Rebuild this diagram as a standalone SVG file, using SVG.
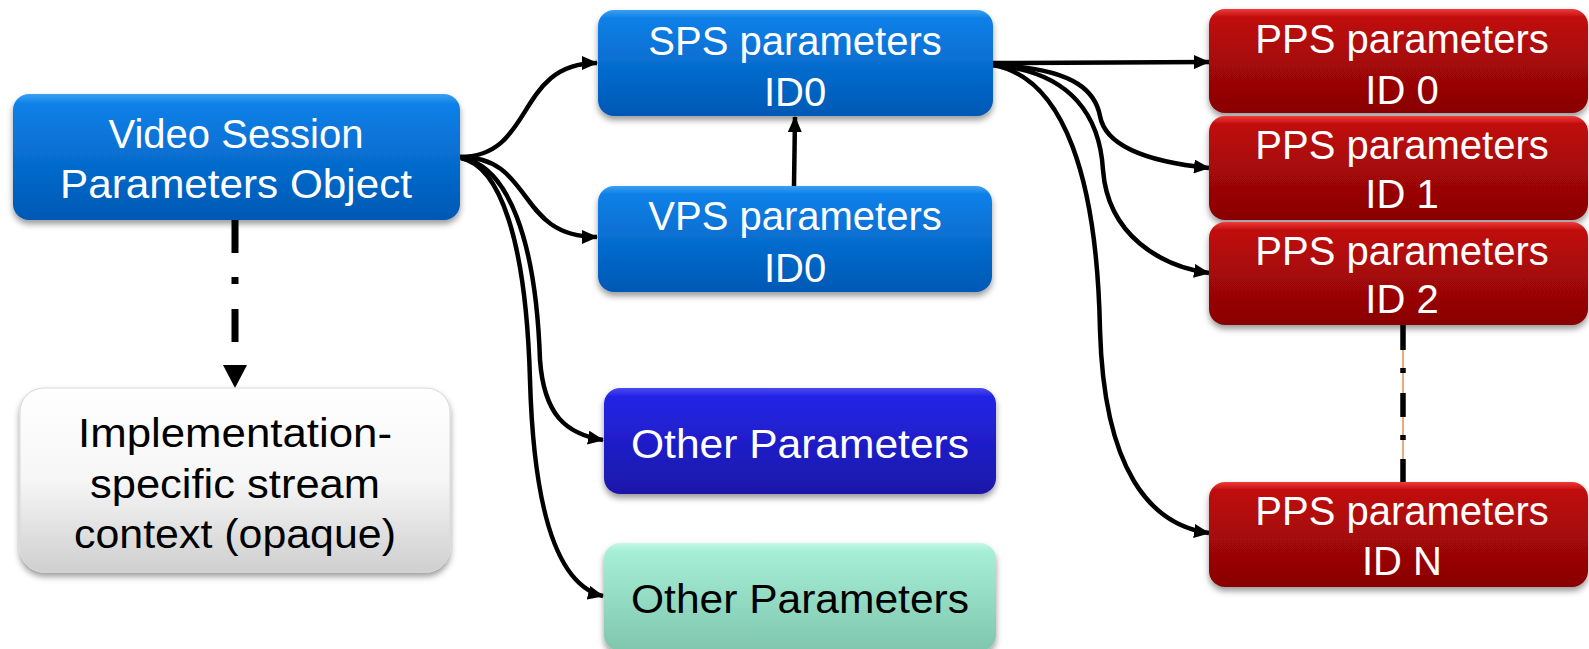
<svg xmlns="http://www.w3.org/2000/svg" width="1589" height="649" viewBox="0 0 1589 649">
<style>
.t{font-family:"Liberation Sans",Arial,sans-serif;font-size:40px;text-anchor:middle}
.w{fill:#ffffff}
.k{fill:#000000}
.c{fill:none;stroke:#000;stroke-width:4.5;stroke-linecap:butt}
</style>
<defs>
<linearGradient id="gBlue" x1="0" y1="0" x2="0" y2="1">
<stop offset="0" stop-color="#3aa0f2"/><stop offset="0.08" stop-color="#0c80e8"/><stop offset="1" stop-color="#0058b4"/>
</linearGradient>
<linearGradient id="gDeep" x1="0" y1="0" x2="0" y2="1">
<stop offset="0" stop-color="#4a4af0"/><stop offset="0.08" stop-color="#2424e6"/><stop offset="1" stop-color="#1a18a8"/>
</linearGradient>
<linearGradient id="gGreen" x1="0" y1="0" x2="0" y2="1">
<stop offset="0" stop-color="#c6f8e8"/><stop offset="0.08" stop-color="#a6eed6"/><stop offset="1" stop-color="#80c6ae"/>
</linearGradient>
<linearGradient id="gRed" x1="0" y1="0" x2="0" y2="1">
<stop offset="0" stop-color="#f03a3a"/><stop offset="0.08" stop-color="#c00a0a"/><stop offset="1" stop-color="#880404"/>
</linearGradient>
<linearGradient id="gWhite" x1="0" y1="0" x2="0" y2="1">
<stop offset="0" stop-color="#ffffff"/><stop offset="0.5" stop-color="#f6f6f6"/><stop offset="1" stop-color="#cfcfcf"/>
</linearGradient>
<filter id="sh" x="-5%" y="-10%" width="110%" height="130%">
<feDropShadow dx="0" dy="4" stdDeviation="3" flood-color="#000" flood-opacity="0.4"/>
</filter>
<marker id="ah" viewBox="0 0 16 14" refX="15" refY="7" markerWidth="16" markerHeight="14" markerUnits="userSpaceOnUse" orient="auto">
<path d="M0,0 L16,7 L0,14 Z" fill="#000"/>
</marker>
</defs>

<g id="connectors">
<path class="c" d="M460,157 C535,157 515,63 597,63" marker-end="url(#ah)"/>
<path class="c" d="M460,157 C535,157 515,237 597,237" marker-end="url(#ah)"/>
<path class="c" d="M461,158 C508,165 536,240 540,360 C544,415 566,434 603,440" marker-end="url(#ah)"/>
<path class="c" d="M461,158 C500,166 526,240 530,380 C534,520 560,586 603,596" marker-end="url(#ah)"/>
<path class="c" d="M794,186 L795,117" marker-end="url(#ah)"/>
<path class="c" d="M993,63 L1209,62" marker-end="url(#ah)"/>
<path class="c" d="M993,65 C1080,68 1096,95 1100,116 C1106,150 1160,163 1209,168" marker-end="url(#ah)"/>
<path class="c" d="M993,65 C1075,72 1100,120 1103,170 C1108,235 1160,266 1209,273" marker-end="url(#ah)"/>
<path class="c" d="M993,65 C1065,78 1097,180 1100,330 C1104,470 1150,525 1209,533" marker-end="url(#ah)"/>
<path d="M235,220 L235,366" fill="none" stroke="#000" stroke-width="7" stroke-dasharray="33 24 7 25 33 100"/>
<path d="M223,365 L247,365 L235,388 Z" fill="#000"/>
<line x1="1403" y1="325" x2="1403" y2="482" stroke="#e07020" stroke-width="1.2"/>
<path d="M1403,325 L1403,482" fill="none" stroke="#000" stroke-width="5.5" stroke-dasharray="25 18 5 20 24 18 5 19 24"/>
</g>

<g id="vspo">
<rect x="13" y="94" width="447" height="126" rx="16" fill="url(#gBlue)" filter="url(#sh)"/>
<text class="t w" x="236" y="148">Video Session</text>
<text class="t w" x="236" y="198" textLength="352" lengthAdjust="spacingAndGlyphs">Parameters Object</text>
</g>
<g id="impl">
<rect x="20" y="388" width="430" height="184" rx="24" fill="url(#gWhite)" stroke="#d8d8d8" stroke-width="1" filter="url(#sh)"/>
<text class="t k" x="235" y="447" textLength="314" lengthAdjust="spacingAndGlyphs">Implementation-</text>
<text class="t k" x="235" y="498" textLength="290" lengthAdjust="spacingAndGlyphs">specific stream</text>
<text class="t k" x="235" y="548" textLength="322" lengthAdjust="spacingAndGlyphs">context (opaque)</text>
</g>
<g id="sps">
<rect x="598" y="10" width="395" height="106" rx="16" fill="url(#gBlue)" filter="url(#sh)"/>
<text class="t w" x="795" y="55">SPS parameters</text>
<text class="t w" x="795" y="106">ID0</text>
</g>
<g id="vps">
<rect x="598" y="186" width="394" height="106" rx="16" fill="url(#gBlue)" filter="url(#sh)"/>
<text class="t w" x="795" y="230">VPS parameters</text>
<text class="t w" x="795" y="282">ID0</text>
</g>
<g id="other1">
<rect x="604" y="388" width="392" height="106" rx="16" fill="url(#gDeep)" filter="url(#sh)"/>
<text class="t w" x="800" y="458" textLength="338" lengthAdjust="spacingAndGlyphs">Other Parameters</text>
</g>
<g id="other2">
<rect x="604" y="543" width="392" height="108" rx="16" fill="url(#gGreen)" filter="url(#sh)"/>
<text class="t k" x="800" y="613" textLength="338" lengthAdjust="spacingAndGlyphs">Other Parameters</text>
</g>
<g id="pps0">
<rect x="1209" y="9" width="379" height="104" rx="16" fill="url(#gRed)" filter="url(#sh)"/>
<text class="t w" x="1402" y="53">PPS parameters</text>
<text class="t w" x="1402" y="104">ID 0</text>
</g>
<g id="pps1">
<rect x="1209" y="116" width="379" height="104" rx="16" fill="url(#gRed)" filter="url(#sh)"/>
<text class="t w" x="1402" y="159">PPS parameters</text>
<text class="t w" x="1402" y="208">ID 1</text>
</g>
<g id="pps2">
<rect x="1209" y="222" width="379" height="103" rx="16" fill="url(#gRed)" filter="url(#sh)"/>
<text class="t w" x="1402" y="265">PPS parameters</text>
<text class="t w" x="1402" y="313">ID 2</text>
</g>
<g id="ppsn">
<rect x="1209" y="482" width="379" height="105" rx="16" fill="url(#gRed)" filter="url(#sh)"/>
<text class="t w" x="1402" y="525">PPS parameters</text>
<text class="t w" x="1402" y="575">ID N</text>
</g>
</svg>
